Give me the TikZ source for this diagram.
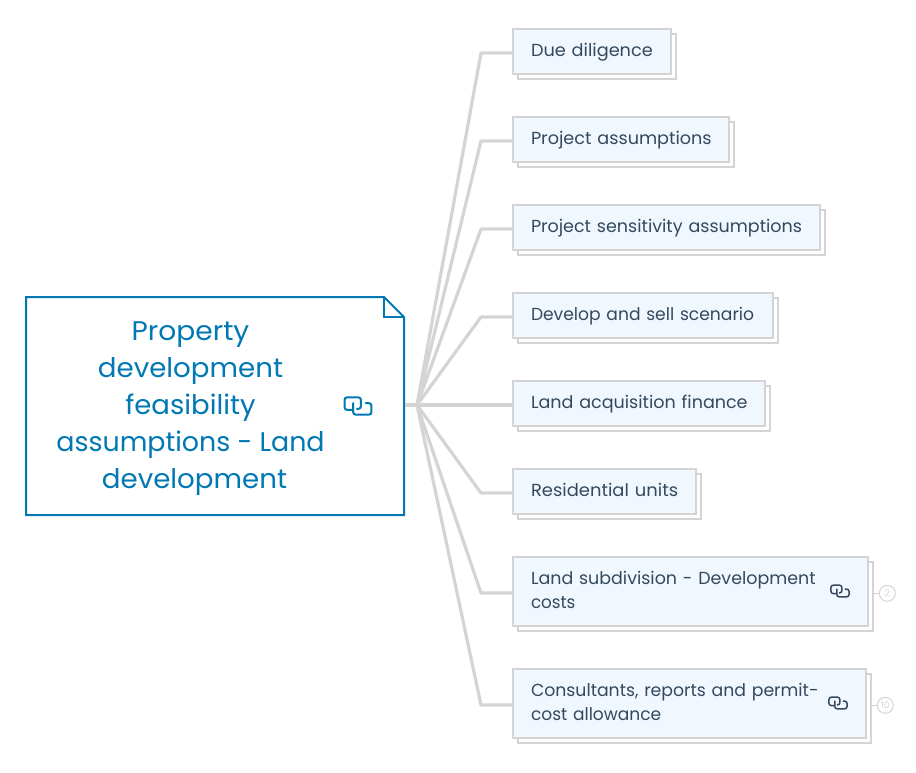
\documentclass[tikz,border=0pt]{standalone}
\usepackage{graphicx}
\usepackage{fontspec}
\setmainfont{Poppins}
\usetikzlibrary{shadows}
\definecolor{blue1}{HTML}{0078B4}
\definecolor{line1}{HTML}{D4D4D4}
\definecolor{txt}{HTML}{34495E}
\definecolor{boxfill}{HTML}{F0F7FE}
\newcommand\tl[2][1]{\mbox{\rule[-6pt]{0pt}{22pt}\scalebox{#1}[1]{#2}}}
\tikzset{
  x=1pt,y=-1pt,
  conn/.style={draw=line1,line width=3.2pt,line join=round},
  topic/.style={draw=line1,line width=2pt,fill=boxfill,anchor=north west,inner sep=0pt,
    text=txt,font=\fontsize{17.45}{24}\selectfont,align=left,
    copy shadow={shadow xshift=5pt,shadow yshift=-5pt,draw=line1,fill=white,line width=2pt}},
  linkicon/.pic={
    \draw[rounded corners=2.5pt,line cap=round,pic actions]
      (-6,4) -- (-14,4) -- (-14,-9) -- (3,-9) -- (3,3) -- (-1,3);
    \draw[rounded corners=2.5pt,line cap=round,pic actions]
      (-5,-3) -- (-5,9) -- (14,9) -- (14,-3) -- (8,-3);
  },
  count/.style={circle,draw=line1,line width=1pt,minimum size=16pt,inner sep=0pt,text=line1,font=\fontsize{9}{9}\selectfont}
}
\begin{document}
\begin{tikzpicture}
\useasboundingbox (0,0) rectangle (916,773);
% main topic
\draw[blue1,line width=2pt,fill=white] (26,297) -- (384,297) -- (404,317) -- (404,515) -- (26,515) -- cycle;
\draw[blue1,line width=2pt] (384,297) -- (384,317) -- (404,317);
\node[text=blue1,font=\fontsize{27}{37}\selectfont,align=center] (main) at (190.5,409) {\scalebox{1.04}[1]{Property}\\\scalebox{1.025}[1]{development}\\\scalebox{1.02}[1]{feasibility}\\\scalebox{.995}[1]{assumptions - Land}\\\hspace*{8pt}\scalebox{1.025}[1]{development}};
\coordinate (mainE) at (405,405);
\coordinate (hub) at (417,405);
% topics
\node[topic,minimum width=158pt,minimum height=45pt,text width=122pt] (t1) at (512,28) {\tl[1.015]{Due diligence}};
\node[topic,minimum width=216pt,minimum height=45pt,text width=180pt] (t2) at (512,116) {\tl[1.011]{Project assumptions}};
\node[topic,minimum width=307pt,minimum height=45pt,text width=271pt] (t3) at (512,204) {\tl[1.004]{Project sensitivity assumptions}};
\node[topic,minimum width=260pt,minimum height=45pt,text width=224pt] (t4) at (512,292) {\tl[.982]{Develop and sell scenario}};
\node[topic,minimum width=252pt,minimum height=45pt,text width=216pt] (t5) at (512,380) {\tl[1.005]{Land acquisition finance}};
\node[topic,minimum width=183pt,minimum height=45pt,text width=147pt] (t6) at (512,468) {\tl[1.028]{Residential units}};
\node[topic,minimum width=355pt,minimum height=69pt,text width=319pt] (t7) at (512,556) {\tl{Land subdivision - Development}\\\tl[.96]{costs}};
\node[topic,minimum width=353pt,minimum height=69pt,text width=317pt] (t8) at (512,668) {\tl[.99]{Consultants, reports and permit-}\\\tl[.977]{cost allowance}};
% connectors
\draw[conn] (mainE) -- (hub);
\foreach \n/\y in {t1/53,t2/141,t3/229,t4/317,t5/405,t6/493,t7/593,t8/705}{
  \draw[conn] (hub) -- (481,\y) -- (\n.west |- 0,\y);
}
% icons
\pic[draw=blue1,line width=2pt,scale=.96] at (358,406) {linkicon};
\pic[draw=txt,line width=1.5pt,scale=.65] at (840,591) {linkicon};
\pic[draw=txt,line width=1.5pt,scale=.65] at (838,703) {linkicon};
% counts
\node[count] (c2) at (887.3,593.3) {2};
\node[count] (c10) at (885.3,705.3) {10};
\draw[draw=line1,line width=1pt] (873.5,593.3) -- (c2.west);
\draw[draw=line1,line width=1pt] (871.5,705.3) -- (c10.west);
\end{tikzpicture}
\end{document}
